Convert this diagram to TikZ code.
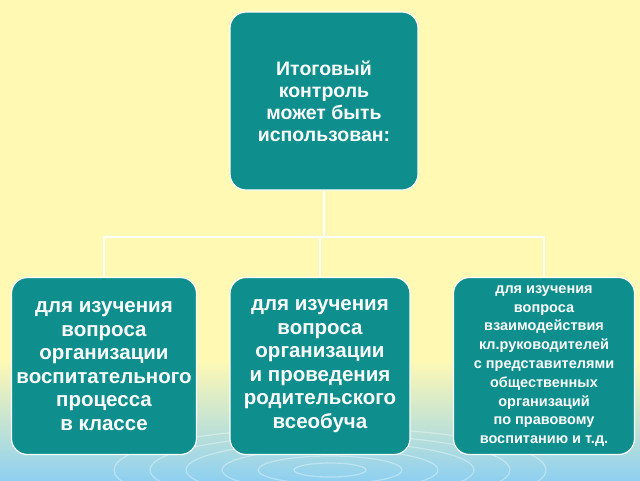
\documentclass[tikz,border=0pt]{standalone}
\usepackage{fontspec}
\setmainfont{Liberation Sans}
\definecolor{teal1}{HTML}{0E8E8C}
\definecolor{bgtop}{HTML}{FFF9B4}
\definecolor{bgbot}{HTML}{8FD0F0}
\tikzset{
 box/.style={draw=white, line width=1.2pt, fill=teal1, rounded corners=16pt, text=white, font=\bfseries, align=center, inner sep=0pt, minimum width=186pt, minimum height=177pt}
}
\begin{document}
\begin{tikzpicture}[x=1pt,y=-1pt]
\useasboundingbox (0,0) rectangle (640,480);
\shade[top color=bgtop, bottom color=bgtop] (0,0) rectangle (640,360);
\shade[top color=bgtop, bottom color=bgbot] (0,360) rectangle (640,480);
\foreach \r in {20,40,60,80,100,120}{
  \draw[white, opacity=0.35, line width=1.2pt] (330,470) ellipse ({\r*1.8} and {\r*0.35});
}
\node[box, minimum width=188pt, minimum height=178pt, font=\bfseries\fontsize{19.5}{22}\selectfont] (top) at (324,101) {Итоговый\\контроль\\может быть\\использован:};
\node[box, minimum width=185pt, font=\bfseries\fontsize{20.5}{23.5}\selectfont] (l) at (104,366) {для изучения\\вопроса\\организации\\воспитательного\\процесса\\в классе};
\node[box, minimum width=180pt, font=\bfseries\fontsize{20.5}{23.5}\selectfont] (m) at (320,366) {для изучения\\вопроса\\организации\\и проведения\\родительского\\всеобуча};
\node[box, minimum width=181pt, font=\bfseries\fontsize{14.5}{18.8}\selectfont] (r) at (544,366) {для изучения\\вопроса\\взаимодействия\\кл.руководителей\\с представителями\\общественных\\организаций\\по правовому\\воспитанию и т.д.};
\coordinate (j) at (324,237);
\draw[white, line width=2.5pt] (top.south) -- (j);
\draw[white, line width=2.5pt] (l.north) |- (j) -| (r.north);
\draw[white, line width=2.5pt] (m.north) -- (m.north |- j);
\end{tikzpicture}
\end{document}
